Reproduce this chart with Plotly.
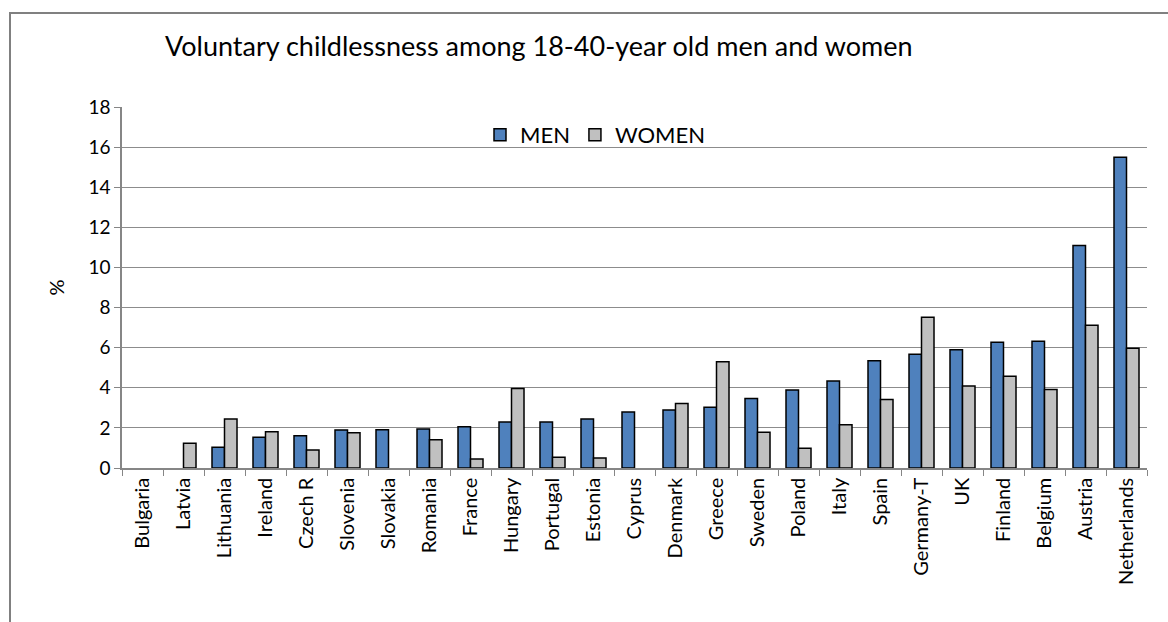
import plotly.graph_objects as go

countries = ["Bulgaria", "Latvia", "Lithuania", "Ireland", "Czech R", "Slovenia", "Slovakia",
             "Romania", "France", "Hungary", "Portugal", "Estonia", "Cyprus", "Denmark", "Greece",
             "Sweden", "Poland", "Italy", "Spain", "Germany-T", "UK", "Finland", "Belgium",
             "Austria", "Netherlands"]
men = [None, None, 1.03, 1.53, 1.61, 1.90, 1.91, 1.95, 2.06, 2.29, 2.29, 2.44, 2.79, 2.89, 3.03,
       3.46, 3.89, 4.34, 5.35, 5.67, 5.89, 6.27, 6.32, 11.09, 15.50]
women = [None, 1.23, 2.44, 1.81, 0.90, 1.76, None, 1.41, 0.45, 3.97, 0.53, 0.50, None, 3.22, 5.30,
         1.78, 0.98, 2.16, 3.42, 7.52, 4.09, 4.57, 3.92, 7.12, 5.97]
y_ticks = [0, 2, 4, 6, 8, 10, 12, 14, 16, 18]

FONT = "Lato"

fig = go.Figure()
fig.add_trace(go.Bar(name="MEN", x=countries, y=men, marker=dict(color="#4F81BD",
                     line=dict(color="black", width=1.5))))
fig.add_trace(go.Bar(name="WOMEN", x=countries, y=women, marker=dict(color="#C0C0C0",
                     line=dict(color="black", width=1.5))))

W, H = 1168, 622
ml, mr, mt, mb = 122, 21, 107, 154
pw, ph = W - ml - mr, H - mt - mb

def px_x(p):
    return (p - ml) / pw

def px_y(p):
    return (H - mb - p) / ph

fig.update_layout(
    width=W, height=H,
    margin=dict(l=ml, r=mr, t=mt, b=mb),
    paper_bgcolor="white", plot_bgcolor="white",
    barmode="group", bargap=0.39, bargroupgap=0,
    font=dict(family=FONT, color="black"),
    showlegend=True,
    legend=dict(orientation="h", x=px_x(480), y=px_y(114), xanchor="left", yanchor="top",
                font=dict(size=22, family=FONT), bgcolor="rgba(0,0,0,0)", itemwidth=30,
                tracegroupgap=0),
    annotations=[
        dict(text="Voluntary childlessness among 18-40-year old men and women",
             xref="paper", yref="paper", x=px_x(163), y=px_y(45), xanchor="left",
             yanchor="middle", showarrow=False, font=dict(size=27, family=FONT)),
    ],
    shapes=[
        dict(type="rect", xref="paper", yref="paper", x0=px_x(10), x1=px_x(1300),
             y0=px_y(700), y1=px_y(13), line=dict(color="#808080", width=2), layer="below"),
    ],
)
fig.update_xaxes(
    type="category", tickangle=-90, tickfont=dict(size=20, family=FONT),
    showline=True, linecolor="#868686", linewidth=1.5,
    ticks="outside", tickson="boundaries", ticklen=6, tickcolor="#868686",
    showgrid=False,
)
fig.update_yaxes(
    range=[0, 18], tickvals=y_ticks, tickfont=dict(size=19, family=FONT),
    showline=True, linecolor="#868686", linewidth=1.5,
    ticks="outside", ticklen=6, tickcolor="#868686",
    showgrid=True, gridcolor="#8C8C8C", gridwidth=1.3,
    title=dict(text="%", font=dict(size=20, family=FONT), standoff=18),
    zeroline=False,
)
fig.write_html("out.html", config={"displayModeBar": False},
               post_script="document.body.style.margin='0px';")
